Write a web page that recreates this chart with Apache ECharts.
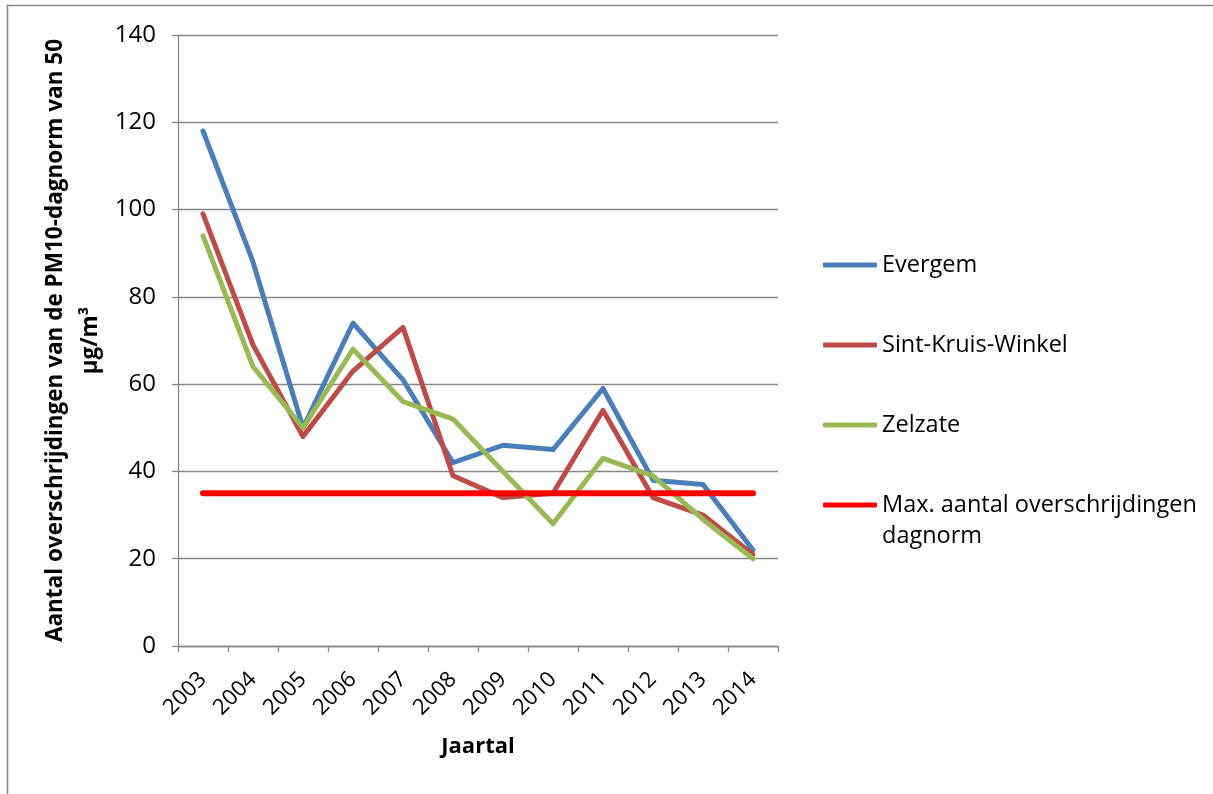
<!DOCTYPE html>
<html>
<head>
<meta charset="utf-8">
<title>PM10 overschrijdingen</title>
<script src="https://cdn.jsdelivr.net/npm/echarts@6/dist/echarts.min.js"></script>
<style>
  html, body { margin: 0; padding: 0; background: #fff; }
  #chart { width: 1213px; height: 794px; }
</style>
</head>
<body>
<div id="chart"></div>
<script>
// jaartallen op de x-as
var years = ['2003', '2004', '2005', '2006', '2007', '2008', '2009', '2010', '2011', '2012', '2013', '2014'];
// aantal overschrijdingen per meetstation
var evergem = [118, 88, 50, 74, 61, 42, 46, 45, 59, 38, 37, 22];
var sintKruisWinkel = [99, 69, 48, 63, 73, 39, 34, 35, 54, 34, 30, 21];
var zelzate = [94, 64, 50, 68, 56, 52, 40, 28, 43, 39, 29, 20];
// toegelaten maximum (35 dagen)
var maxNorm = [35, 35, 35, 35, 35, 35, 35, 35, 35, 35, 35, 35];

var FONT = 'Open Sans';
var MAX_NAME = 'Max. aantal overschrijdingen dagnorm';

var chart = echarts.init(document.getElementById('chart'));
chart.setOption({
  animation: false,
  textStyle: { fontFamily: FONT },
  grid: { left: 178, right: 435, top: 35, bottom: 148 },
  graphic: [{
    type: 'rect', silent: true,
    shape: { x: 7.5, y: 5.5, width: 1300, height: 900 },
    style: { fill: 'none', stroke: '#878787', lineWidth: 1.5 }
  }, {
    // tweede regel van de laatste legende-tekst
    type: 'text', silent: true, left: 882, top: 524,
    style: { text: 'dagnorm', font: '23.5px "Open Sans"', fill: '#000' }
  }],
  legend: {
    orient: 'vertical', left: 818, top: 248, itemGap: 56,
    itemWidth: 54, itemHeight: 5, icon: 'roundRect',
    textStyle: { fontFamily: FONT, fontSize: 23.5, color: '#000', lineHeight: 24 },
    formatter: function (name) {
      return name === MAX_NAME ? 'Max. aantal overschrijdingen' : name;
    },
    data: ['Evergem', 'Sint-Kruis-Winkel', 'Zelzate', MAX_NAME]
  },
  xAxis: {
    type: 'category',
    data: years,
    boundaryGap: true,
    name: 'Jaartal',
    nameLocation: 'middle',
    nameGap: 90,
    nameTextStyle: { fontFamily: FONT, fontSize: 22, fontWeight: 'bold', color: '#000' },
    axisLine: { lineStyle: { color: '#878787', width: 1.3 } },
    axisTick: { show: true, length: 6, lineStyle: { color: '#878787', width: 1.3 } },
    axisLabel: { rotate: 45, margin: 30, fontFamily: FONT, fontSize: 22, color: '#000' },
    splitLine: { show: false }
  },
  yAxis: {
    type: 'value',
    min: 0, max: 140, interval: 20,
    name: 'Aantal overschrijdingen van de PM10-dagnorm van 50\nµg/m³',
    nameLocation: 'middle',
    nameRotate: 90,
    nameGap: 70,
    nameTextStyle: { fontFamily: FONT, fontSize: 22.5, fontWeight: 'bold', color: '#000', lineHeight: 35, align: 'center' },
    axisLine: { show: true, lineStyle: { color: '#878787', width: 1.3 } },
    axisTick: { show: true, length: 6, lineStyle: { color: '#878787', width: 1.3 } },
    axisLabel: { margin: 22, fontFamily: FONT, fontSize: 24, color: '#000' },
    splitLine: { lineStyle: { color: '#878787', width: 1.3 } }
  },
  series: [
    {
      name: 'Evergem', type: 'line', data: evergem, symbol: 'none',
      itemStyle: { color: '#4A7EBB' },
      lineStyle: { color: '#4A7EBB', width: 5, cap: 'round', join: 'round' }
    },
    {
      name: 'Sint-Kruis-Winkel', type: 'line', data: sintKruisWinkel, symbol: 'none',
      itemStyle: { color: '#BE4B48' },
      lineStyle: { color: '#BE4B48', width: 5, cap: 'round', join: 'round' }
    },
    {
      name: 'Zelzate', type: 'line', data: zelzate, symbol: 'none',
      itemStyle: { color: '#98B954' },
      lineStyle: { color: '#98B954', width: 5, cap: 'round', join: 'round' }
    },
    {
      name: MAX_NAME, type: 'line', data: maxNorm, symbol: 'none',
      itemStyle: { color: '#FF0000' },
      lineStyle: { color: '#FF0000', width: 6, cap: 'round', join: 'round' }
    }
  ]
});
</script>
</body>
</html>
